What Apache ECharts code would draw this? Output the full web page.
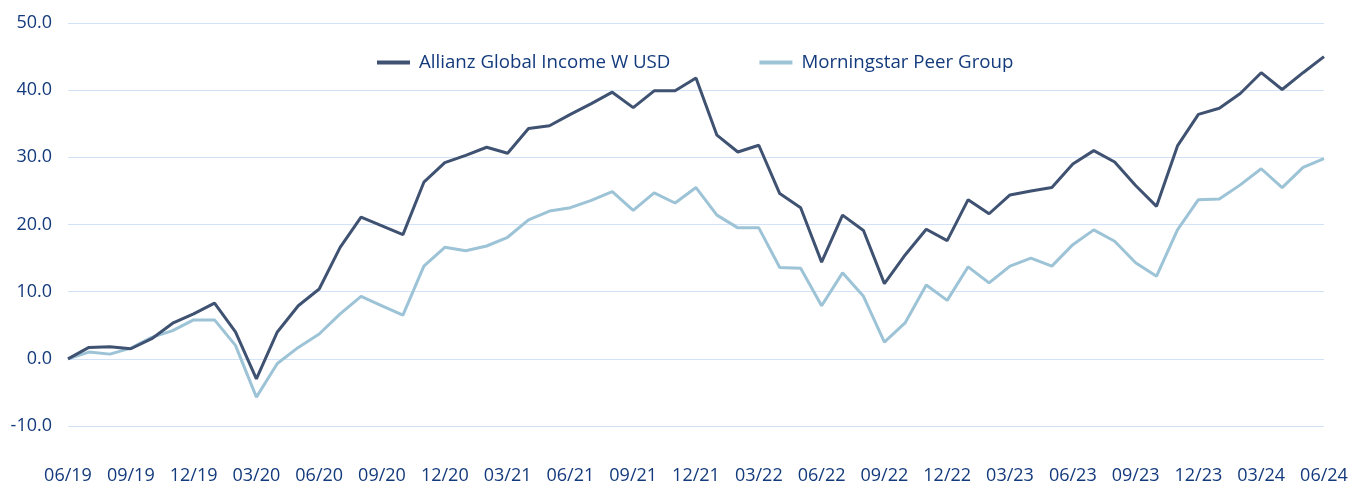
<!DOCTYPE html>
<html>
<head>
<meta charset="utf-8">
<script src="https://cdn.jsdelivr.net/npm/echarts@6/dist/echarts.min.js"></script>
<style>
  html, body { margin: 0; padding: 0; background: #fff; }
  #chart { width: 1356px; height: 484px; }
</style>
</head>
<body>
<div id="chart"></div>
<script>
// month labels, 06/19 .. 06/24
const months = [
  '06/19','07/19','08/19','09/19','10/19','11/19','12/19','01/20','02/20','03/20',
  '04/20','05/20','06/20','07/20','08/20','09/20','10/20','11/20','12/20','01/21',
  '02/21','03/21','04/21','05/21','06/21','07/21','08/21','09/21','10/21','11/21',
  '12/21','01/22','02/22','03/22','04/22','05/22','06/22','07/22','08/22','09/22',
  '10/22','11/22','12/22','01/23','02/23','03/23','04/23','05/23','06/23','07/23',
  '08/23','09/23','10/23','11/23','12/23','01/24','02/24','03/24','04/24','05/24',
  '06/24'
]

const fundName = 'Allianz Global Income W USD'
const peerName = 'Morningstar Peer Group'

const fundValues = [
  0.0, 1.7, 1.8, 1.5, 3.0, 5.3, 6.7, 8.3, 4.0, -3.0,
  4.0, 7.9, 10.4, 16.6, 21.1, 19.8, 18.5, 26.3, 29.2, 30.3,
  31.5, 30.6, 34.3, 34.7, 36.4, 38.0, 39.7, 37.4, 39.9, 39.9,
  41.8, 33.3, 30.8, 31.8, 24.6, 22.5, 14.4, 21.4, 19.1, 11.2,
  15.5, 19.3, 17.6, 23.7, 21.6, 24.4, 25.0, 25.5, 29.0, 31.0,
  29.3, 25.8, 22.7, 31.7, 36.4, 37.3, 39.5, 42.6, 40.1, 42.6,
  45.0
]

const peerValues = [
  0.0, 1.0, 0.7, 1.6, 3.2, 4.2, 5.8, 5.8, 2.0, -5.7,
  -0.7, 1.7, 3.7, 6.7, 9.3, 7.9, 6.5, 13.8, 16.6, 16.1,
  16.8, 18.1, 20.7, 22.0, 22.5, 23.6, 24.9, 22.1, 24.7, 23.2,
  25.5, 21.4, 19.5, 19.5, 13.6, 13.5, 7.9, 12.8, 9.3, 2.5,
  5.4, 11.0, 8.7, 13.7, 11.3, 13.8, 15.0, 13.8, 17.0, 19.2,
  17.5, 14.3, 12.3, 19.2, 23.7, 23.8, 25.9, 28.3, 25.5, 28.5,
  29.8
]

const textColor = '#133a7c'
const fontFamily = '"Open Sans", sans-serif'

const chart = echarts.init(document.getElementById('chart'))

const option = {
  animation: false,
  legend: {
    left: 372,
    top: 48,
    icon: 'rect',
    itemWidth: 33,
    itemHeight: 4,
    itemGap: 89,
    textStyle: { color: textColor, fontSize: 18.7, fontFamily: fontFamily, padding: [0, 0, 0, 4] },
    data: [fundName, peerName]
  },
  grid: {
    left: 68,
    right: 32,
    top: 23,
    bottom: 58,
    containLabel: false,
    outerBoundsMode: 'none'
  },
  xAxis: {
    type: 'category',
    boundaryGap: false,
    data: months,
    axisLine: { show: false },
    axisTick: { show: false },
    axisLabel: {
      interval: 2,
      margin: 41,
      color: textColor,
      fontSize: 18,
      fontFamily: fontFamily
    }
  },
  yAxis: {
    type: 'value',
    min: -10,
    max: 50,
    interval: 10,
    axisLine: { show: false },
    axisTick: { show: false },
    axisLabel: {
      margin: 16,
      color: textColor,
      fontSize: 18,
      fontFamily: fontFamily,
      formatter: v => v.toFixed(1)
    },
    splitLine: { lineStyle: { color: '#d2e3f7', width: 1 } }
  },
  series: [
    {
      name: fundName,
      type: 'line',
      data: fundValues,
      showSymbol: false,
      itemStyle: { color: '#3f5272' },
      lineStyle: { color: '#3f5272', width: 3 },
      z: 3
    },
    {
      name: peerName,
      type: 'line',
      data: peerValues,
      showSymbol: false,
      itemStyle: { color: '#9dc3d6' },
      lineStyle: { color: '#9dc3d6', width: 3 },
      z: 2
    }
  ]
}

chart.setOption(option)
</script>
</body>
</html>
